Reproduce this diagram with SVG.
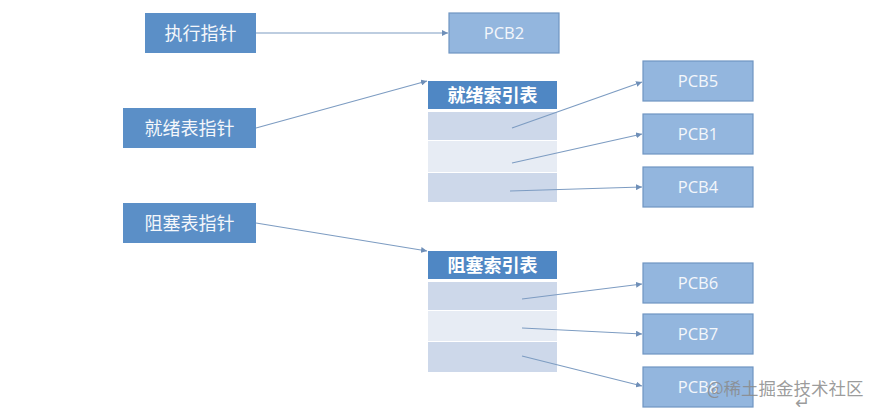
<svg xmlns="http://www.w3.org/2000/svg" width="882" height="413" viewBox="0 0 882 413">
<style>
.ptr{fill:#5b8fc7;}
.ptrt{fill:#f4f7fb;font-family:"Noto Sans CJK SC",sans-serif;font-size:18px;text-anchor:middle;}
.hdr{fill:#4f87c4;}
.hdrt{fill:#ffffff;font-family:"Noto Sans CJK SC",sans-serif;font-size:18px;font-weight:bold;text-anchor:middle;}
.rowa{fill:#cdd8ea;}
.rowb{fill:#e7ecf4;}
.pcb{fill:#93b6de;stroke:#6f95c2;stroke-width:1.2;}
.pcbt{fill:#f4f7fb;font-family:"Open Sans","Liberation Sans",sans-serif;font-size:16.5px;text-anchor:middle;}
.con{stroke:#7d9cc2;stroke-width:1.2;fill:none;marker-end:url(#ah);}
.wm{fill:#8a8a8a;fill-opacity:0.85;font-family:"Noto Sans CJK SC",sans-serif;font-size:17.5px;}
</style>
<defs>
<marker id="ah" viewBox="0 0 10 10" refX="10" refY="5" markerWidth="6" markerHeight="6" orient="auto" markerUnits="userSpaceOnUse">
<path d="M0,0 L10,5 L0,10 z" fill="#6f8fb8"/>
</marker>
</defs>
<rect width="882" height="413" fill="#ffffff"/>

<g id="exec-ptr"><rect class="ptr" x="145" y="13" width="111" height="40"/><text class="ptrt" x="200.5" y="39.5">执行指针</text></g>
<g id="ready-ptr"><rect class="ptr" x="123" y="108" width="133" height="40"/><text class="ptrt" x="189.5" y="134.5">就绪表指针</text></g>
<g id="block-ptr"><rect class="ptr" x="123" y="203" width="133" height="40"/><text class="ptrt" x="189.5" y="229.5">阻塞表指针</text></g>

<g id="ready-table">
<rect class="hdr" x="428" y="81" width="129" height="28"/><text class="hdrt" x="492.5" y="101.5">就绪索引表</text>
<rect class="rowa" x="428" y="112" width="129" height="28"/>
<rect class="rowb" x="428" y="141" width="129" height="31"/>
<rect class="rowa" x="428" y="173" width="129" height="29"/>
</g>
<g id="block-table">
<rect class="hdr" x="428" y="251" width="129" height="28"/><text class="hdrt" x="492.5" y="271.5">阻塞索引表</text>
<rect class="rowa" x="428" y="282" width="129" height="28"/>
<rect class="rowb" x="428" y="311" width="129" height="30"/>
<rect class="rowa" x="428" y="342" width="129" height="30"/>
</g>

<g id="pcb2"><rect class="pcb" x="449" y="13" width="110" height="40"/><text class="pcbt" x="504" y="39">PCB2</text></g>
<g id="pcb5"><rect class="pcb" x="643" y="61" width="110" height="40"/><text class="pcbt" x="698" y="87">PCB5</text></g>
<g id="pcb1"><rect class="pcb" x="643" y="114" width="110" height="40"/><text class="pcbt" x="698" y="140">PCB1</text></g>
<g id="pcb4"><rect class="pcb" x="643" y="167" width="110" height="40"/><text class="pcbt" x="698" y="193">PCB4</text></g>
<g id="pcb6"><rect class="pcb" x="643" y="263" width="110" height="40"/><text class="pcbt" x="698" y="289">PCB6</text></g>
<g id="pcb7"><rect class="pcb" x="643" y="314" width="110" height="40"/><text class="pcbt" x="698" y="340">PCB7</text></g>
<g id="pcb8"><rect class="pcb" x="643" y="367" width="110" height="40"/><text class="pcbt" x="698" y="393">PCB8</text></g>

<g id="connectors">
<line class="con" x1="256" y1="33" x2="448" y2="33"/>
<line class="con" x1="256" y1="128" x2="427" y2="81"/>
<line class="con" x1="256" y1="223" x2="427" y2="251"/>
<line class="con" x1="512" y1="128" x2="642" y2="82"/>
<line class="con" x1="512" y1="163" x2="642" y2="134"/>
<line class="con" x1="510" y1="191" x2="642" y2="187"/>
<line class="con" x1="522" y1="299" x2="642" y2="284"/>
<line class="con" x1="522" y1="328" x2="642" y2="334"/>
<line class="con" x1="522" y1="356" x2="642" y2="386"/>
</g>

<g id="watermark">
<text class="wm" x="707" y="395">@稀土掘金技术社区</text>
<text class="wm" x="795" y="409" font-size="14">↵</text>
</g>
</svg>
